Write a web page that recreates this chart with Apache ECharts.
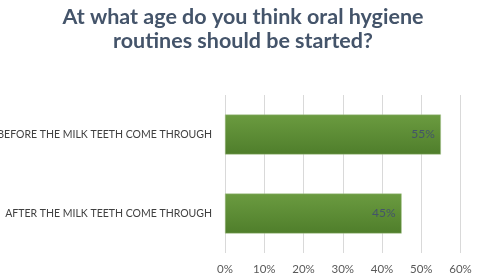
<!DOCTYPE html>
<html>
<head>
<meta charset="utf-8">
<script src="https://cdn.jsdelivr.net/npm/echarts@6/dist/echarts.min.js"></script>
<style>
  html, body { margin: 0; padding: 0; background: #fff; }
  #chart { width: 486px; height: 275px; }
</style>
</head>
<body>
<div id="chart"></div>
<script>
// 数据
const categories = ['AFTER THE MILK TEETH COME THROUGH', 'BEFORE THE MILK TEETH COME THROUGH']
const shares = [45, 55]
const chartTitle = 'At what age do you think oral hygiene\nroutines should be started?'

const chart = echarts.init(document.getElementById('chart'), null, { renderer: 'canvas' })

const option = {
  title: {
    text: chartTitle,
    left: 238,
    textAlign: 'center',
    top: 0,
    textStyle: {
      fontFamily: 'Lato',
      fontWeight: 'bold',
      fontSize: 21.5,
      lineHeight: 24,
      color: '#44546a',
    },
  },
  grid: {
    left: 225,
    right: 25.5,
    top: 95,
    bottom: 22,
    containLabel: false,
    outerBoundsMode: 'none',
  },
  xAxis: {
    type: 'value',
    min: 0,
    max: 60,
    interval: 10,
    axisLabel: {
      formatter: '{value}%',
      fontFamily: 'Lato',
      fontSize: 11.5,
      color: '#595959',
      margin: 10,
    },
    axisLine: { show: false },
    axisTick: { show: false },
    splitLine: { lineStyle: { color: '#d9d9d9', width: 1 } },
  },
  yAxis: {
    type: 'category',
    data: categories,
    axisLine: { show: false },
    axisTick: { show: false },
    axisLabel: {
      fontFamily: 'Lato',
      fontSize: 10.5,
      color: '#404040',
      margin: 13,
    },
  },
  series: [
    {
      type: 'bar',
      data: shares,
      barWidth: 40,
      itemStyle: {
        color: new echarts.graphic.LinearGradient(0, 0, 0, 1, [
          { offset: 0, color: '#6b9b40' },
          { offset: 1, color: '#4f7e2b' },
        ]),
        borderColor: '#a9c48e',
        borderWidth: 0.5,
      },
      label: {
        show: true,
        position: 'insideRight',
        formatter: '{c}%',
        fontFamily: 'Lato',
        fontSize: 12,
        color: '#44546a',
        offset: [-1, 0],
      },
    },
  ],
}

chart.setOption(option)
</script>
</body>
</html>
